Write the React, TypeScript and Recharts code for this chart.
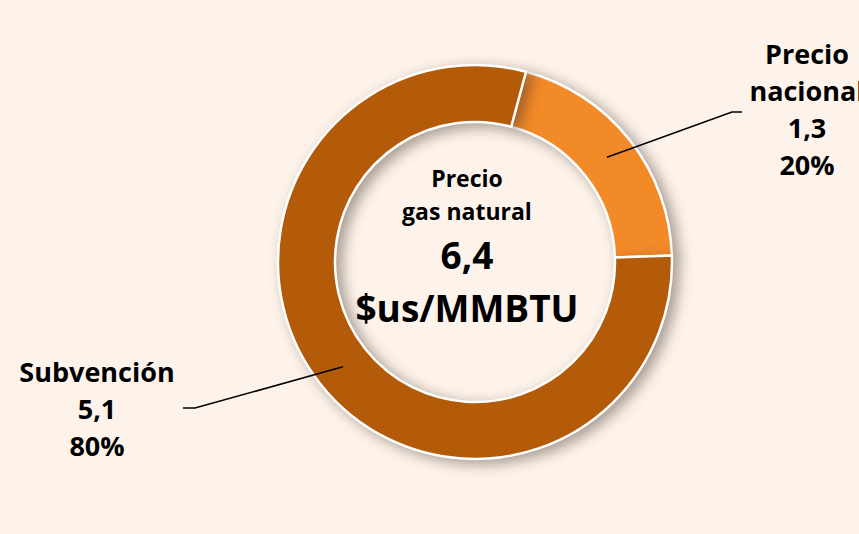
import React from "react"
import { PieChart, Pie, Cell } from "recharts"

const categories = ["Precio nacional", "Subvención"]
const labelLines = [["Precio", "nacional"], ["Subvención"]]
const values = [1.3, 5.1]
const colors = ["#F38A28", "#B45B0A"]

const centerTitle = ["Precio", "gas natural"]
const unit = "$us/MMBTU"

const data = categories.map((name, i) => ({ name, value: values[i] }))
const total = values.reduce((a, b) => a + b, 0)

const fmt = (v: number) => v.toFixed(1).replace(".", ",")

const FONT = "'Open Sans', 'Noto Sans', sans-serif"
const RAD = Math.PI / 180

// label block placement, relative to the pie centre
const labelPos = [
  { tx: 332, ty: -198, ex: 257, ey: -150, tail: 10 },
  { tx: -378, ty: 120, ex: -280, ey: 146, tail: -12 },
]

const renderLabel = (props: any) => {
  const { cx, cy, midAngle, innerRadius, outerRadius, index, value, percent } = props
  const r = (innerRadius + outerRadius) / 2
  const sx = cx + r * Math.cos(-midAngle * RAD)
  const sy = cy + r * Math.sin(-midAngle * RAD)
  const p = labelPos[index]
  const ex = cx + p.ex
  const ey = cy + p.ey
  const lines = [...labelLines[index], fmt(value), `${Math.round(percent * 100)}%`]
  return (
    <g>
      <polyline
        points={`${sx},${sy} ${ex},${ey} ${ex + p.tail},${ey}`}
        fill="none"
        stroke="#000"
        strokeWidth={1.6}
      />
      <text
        x={cx + p.tx}
        y={cy + p.ty}
        textAnchor="middle"
        fontFamily={FONT}
        fontWeight={700}
        fontSize={27}
        fill="#000"
      >
        {lines.map((t, i) => (
          <tspan key={i} x={cx + p.tx} dy={i === 0 ? 0 : 37}>
            {t}
          </tspan>
        ))}
      </text>
    </g>
  )
}

export default function App() {
  const cx = 470
  const cy = 257
  return (
    <div style={{ width: 859, height: 534, background: "#FDF3EA", position: "relative" }}>
      <style>{`
        body { margin: 0; }
        .donut path.recharts-sector { filter: drop-shadow(6px 4px 7px rgba(60, 45, 35, 0.45)); }
      `}</style>
      <PieChart width={859} height={534} className="donut">
        <Pie
          data={data}
          dataKey="value"
          nameKey="name"
          cx={cx}
          cy={cy}
          innerRadius={140}
          outerRadius={197}
          startAngle={75}
          endAngle={-285}
          stroke="#FFFFFF"
          strokeWidth={2.5}
          label={renderLabel}
          labelLine={false}
          isAnimationActive={false}
        >
          {data.map((d, i) => (
            <Cell key={d.name} fill={colors[i]} />
          ))}
        </Pie>
        <text
          x={cx - 3}
          y={187}
          textAnchor="middle"
          fontFamily={FONT}
          fontWeight={700}
          fontSize={23}
          fill="#000"
        >
          <tspan x={cx - 3} dy={0}>{centerTitle[0]}</tspan>
          <tspan x={cx - 3} dy={33}>{centerTitle[1]}</tspan>
        </text>
        <text
          x={cx - 3}
          y={269}
          textAnchor="middle"
          fontFamily={FONT}
          fontWeight={700}
          fontSize={37}
          fill="#000"
        >
          <tspan x={cx - 3} dy={0}>{fmt(total)}</tspan>
          <tspan x={cx - 3} dy={53}>{unit}</tspan>
        </text>
      </PieChart>
    </div>
  )
}
